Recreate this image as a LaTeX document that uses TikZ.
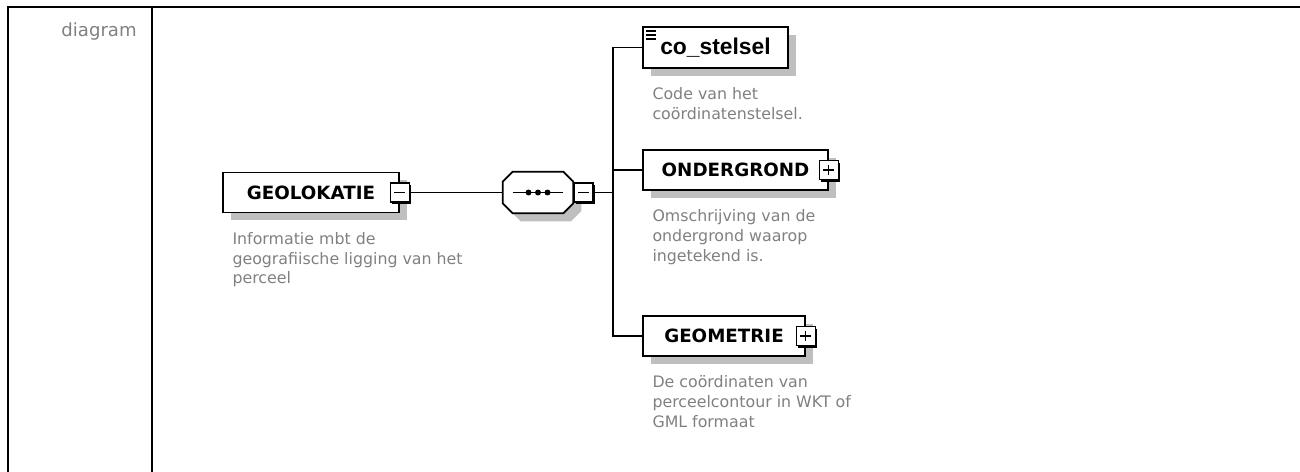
\documentclass[tikz,border=0pt]{standalone}
\usepackage{fontspec}
\setmainfont{DejaVu Sans}
\newfontfamily\arialfont{Liberation Sans}
\usetikzlibrary{shadows}

\tikzset{
  line/.style={line width=0.8pt},
  box/.style={draw, line width=1pt, fill=white, inner sep=0pt, minimum height=0.8cm,
    font=\fontsize{10.4}{12}\selectfont\bfseries,
    general shadow={fill=black!25, shadow xshift=4.5pt, shadow yshift=-4.5pt}},
  simple/.style={box, path picture={
    \foreach \dy in {2.3pt,4.5pt,6.8pt}
      \draw[line width=0.7pt] ([xshift=1.7pt,yshift=-\dy]path picture bounding box.north west) -- ++(5.7pt,0);}},
  toggle/.style={draw, line width=0.9pt, fill=white, minimum size=0.38cm, inner sep=0pt,
    general shadow={fill=black, shadow xshift=1.2pt, shadow yshift=-1.2pt}},
  minus/.style={toggle, path picture={
    \draw[line width=0.7pt] ([xshift=2.3pt]path picture bounding box.west) -- ([xshift=-2.3pt]path picture bounding box.east);}},
  plus/.style={toggle, path picture={
    \draw[line width=0.7pt] ([xshift=2.3pt]path picture bounding box.west) -- ([xshift=-2.3pt]path picture bounding box.east);
    \draw[line width=0.7pt] ([yshift=-2.3pt]path picture bounding box.north) -- ([yshift=2.3pt]path picture bounding box.south);}},
  seq/.style={inner sep=0pt, minimum width=1.4cm, minimum height=0.82cm},
  seqshape/.style={draw, line width=1pt, fill=white,
    general shadow={fill=black!25, shadow xshift=4.5pt, shadow yshift=-4.5pt}},
  desc/.style={anchor=north west, inner sep=0pt, align=left, text=black!50,
    font=\fontsize{9}{11.3}\selectfont}
}

\begin{document}
\begin{tikzpicture}[x=0.02cm, y=-0.02cm]
  \useasboundingbox (0,0) rectangle (1300,472);

  % table frame
  \draw[line width=1.3pt] (8,472) -- (8,7) -- (1300,7);
  \draw[line width=1.3pt] (152,7) -- (152,472);
  \node[anchor=base east, inner sep=0pt, text=black!50, font=\fontsize{10.3}{12}\selectfont] (lbl) at (137,37) {diagram};

  % parent element
  \node[box, minimum width=3.52cm] (geo) at (311,192.5) {GEOLOKATIE};
  \node[minus] (geotog) at (geo.east) {};
  \node[desc] (geodesc) at ([xshift=5.7pt,yshift=-10.5pt]geo.south west) {Informatie mbt de\\geografiische ligging van het\\perceel};

  % sequence
  \node[seq] (seq) at (538,192.5) {};
  \path[seqshape] ([yshift=-5.7pt]seq.north west) -- ([xshift=5.7pt]seq.north west)
    -- ([xshift=-5.7pt]seq.north east) -- ([yshift=-5.7pt]seq.north east)
    -- ([yshift=5.7pt]seq.south east) -- ([xshift=-5.7pt]seq.south east)
    -- ([xshift=5.7pt]seq.south west) -- ([yshift=5.7pt]seq.south west) -- cycle;
  \draw[line width=0.8pt] ([xshift=-14pt]seq.center) -- ([xshift=14pt]seq.center);
  \foreach \dx in {-5.4pt,0pt,5.4pt}
    \fill ([xshift=\dx]seq.center) circle (1.7pt);
  \node[minus, anchor=west] (seqtog) at (seq.east) {};
  \coordinate (bus) at (613,192.5);

  % children
  \node[simple, minimum width=2.9cm, minimum height=0.82cm, font=\arialfont\fontsize{13}{15}\selectfont\bfseries] (co) at (715.5,47.5) {co\_stelsel};
  \node[desc] (codesc) at ([xshift=5.7pt,yshift=-10.5pt]co.south west) {Code van het\\coördinatenstelsel.};

  \node[box, minimum width=3.7cm] (ond) at (735.5,170) {ONDERGROND};
  \node[plus] (ondtog) at (ond.east) {};
  \node[desc] (onddesc) at ([xshift=5.7pt,yshift=-10.5pt]ond.south west) {Omschrijving van de\\ondergrond waarop\\ingetekend is.};

  \node[box, minimum width=3.24cm] (geom) at (724,336) {GEOMETRIE};
  \node[plus] (geomtog) at (geom.east) {};
  \node[desc] (geomdesc) at ([xshift=5.7pt,yshift=-10.5pt]geom.south west) {De coördinaten van\\perceelcontour in WKT of\\GML formaat};

  % connectors
  \draw[line] (geotog.east) -- (seq.west);
  \draw[line] (seqtog.east) -- (bus);
  \draw[line] (bus) |- (co.west);
  \draw[line] (bus) |- (ond.west);
  \draw[line] (bus) |- (geom.west);
\end{tikzpicture}
\end{document}
